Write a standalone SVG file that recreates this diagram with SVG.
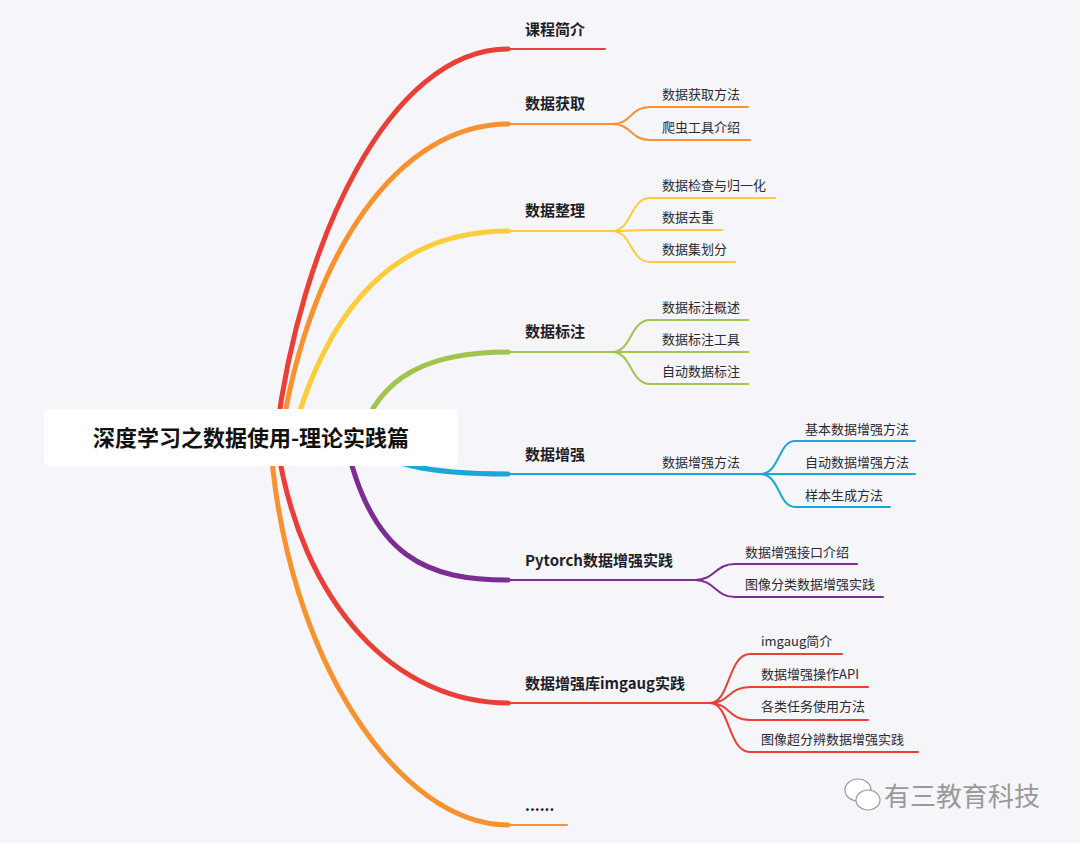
<svg xmlns="http://www.w3.org/2000/svg" width="1080" height="843" viewBox="0 0 1080 843">
<style>
.m{font-family:"Noto Sans CJK SC","Liberation Sans",sans-serif;font-size:15px;font-weight:bold;fill:#1e1e28}
.s{font-family:"Noto Sans CJK SC","Liberation Sans",sans-serif;font-size:13px;fill:#2a2a33}
path{fill:none;stroke-linecap:round}
.b{stroke-width:5}
.u{stroke-width:2}
</style>
<rect width="1080" height="843" fill="#f5f5fa"/>
<g id="connectors">
<g stroke="#ea3f36"><path class="b" d="M276,437 C300,240 390,49 508,49"/><path class="u" d="M508,49 H605"/></g>
<g stroke="#f7922e"><path class="b" d="M281,437 C310,250 400,124 508,124"/><path class="u" d="M508,124 H612 C632,124 630,107 650,107 H748 M612,124 C632,124 630,140 650,140 H750"/></g>
<g stroke="#fccd3a"><path class="b" d="M292,437 C330,300 400,231 508,231"/><path class="u" d="M508,231 H612 C632,231 630,198 650,198 H775 M612,231 C632,231 632,230 650,230 H722 M612,231 C632,231 630,262 650,262 H735"/></g>
<g stroke="#9fc54a"><path class="b" d="M360,437 C380,375 430,352 508,352"/><path class="u" d="M508,352 H612 C632,352 630,320 650,320 H748 M612,352 H748 M612,352 C632,352 630,384 650,384 H748"/></g>
<g stroke="#1ba8d8"><path class="b" d="M360,437 C380,465 430,474 508,474"/><path class="u" d="M508,474 H760 C780,474 778,441 795,441 H915 M760,474 H915 M760,474 C780,474 778,507 795,507 H890"/></g>
<g stroke="#7b2d94"><path class="b" d="M345,437 C370,560 430,580 508,580"/><path class="u" d="M508,580 H695 C715,580 715,564 735,564 H857 M695,580 C715,580 715,597 735,597 H883"/></g>
<g stroke="#ea3f36"><path class="b" d="M276,437 C300,610 400,703 508,703"/><path class="u" d="M508,703 H710 C730,703 728,654 750,654 H842 M710,703 C730,703 728,687 750,687 H868 M710,703 C730,703 728,720 750,720 H868 M710,703 C730,703 728,752 750,752 H918"/></g>
<g stroke="#f7922e"><path class="b" d="M270,437 C285,660 400,825 508,825"/><path class="u" d="M508,825 H567"/></g>
</g>
<g id="root"><rect x="44" y="409" width="414" height="57" rx="6" fill="#fff"/><text x="251" y="446" text-anchor="middle" font-family="Noto Sans CJK SC,sans-serif" font-size="22" font-weight="bold" fill="#111">深度学习之数据使用-理论实践篇</text></g>
<g id="n1"><text class="m" x="525" y="35">课程简介</text></g>
<g id="n2"><text class="m" x="525" y="109">数据获取</text><text class="s" x="662" y="99">数据获取方法</text><text class="s" x="662" y="132">爬虫工具介绍</text></g>
<g id="n3"><text class="m" x="525" y="216">数据整理</text><text class="s" x="662" y="190">数据检查与归一化</text><text class="s" x="662" y="222">数据去重</text><text class="s" x="662" y="254">数据集划分</text></g>
<g id="n4"><text class="m" x="525" y="337">数据标注</text><text class="s" x="662" y="312">数据标注概述</text><text class="s" x="662" y="344">数据标注工具</text><text class="s" x="662" y="376">自动数据标注</text></g>
<g id="n5"><text class="m" x="525" y="460">数据增强</text><text class="s" x="662" y="467">数据增强方法</text><text class="s" x="805" y="434">基本数据增强方法</text><text class="s" x="805" y="467">自动数据增强方法</text><text class="s" x="805" y="500">样本生成方法</text></g>
<g id="n6"><text class="m" x="525" y="566">Pytorch数据增强实践</text><text class="s" x="745" y="557">数据增强接口介绍</text><text class="s" x="745" y="589">图像分类数据增强实践</text></g>
<g id="n7"><text class="m" x="525" y="689">数据增强库imgaug实践</text><text class="s" x="761" y="646">imgaug简介</text><text class="s" x="761" y="679">数据增强操作API</text><text class="s" x="761" y="711">各类任务使用方法</text><text class="s" x="761" y="744">图像超分辨数据增强实践</text></g>
<g id="n8"><text class="m" x="525" y="811">......</text></g>
<g id="watermark" fill="#fff" stroke="#999" stroke-width="1.2"><ellipse cx="858" cy="790" rx="13" ry="11"/><ellipse cx="868" cy="800" rx="12" ry="10"/><text x="884" y="806" font-family="Noto Sans CJK SC,sans-serif" font-size="26" fill="#999" stroke="none">有三教育科技</text></g>
</svg>
